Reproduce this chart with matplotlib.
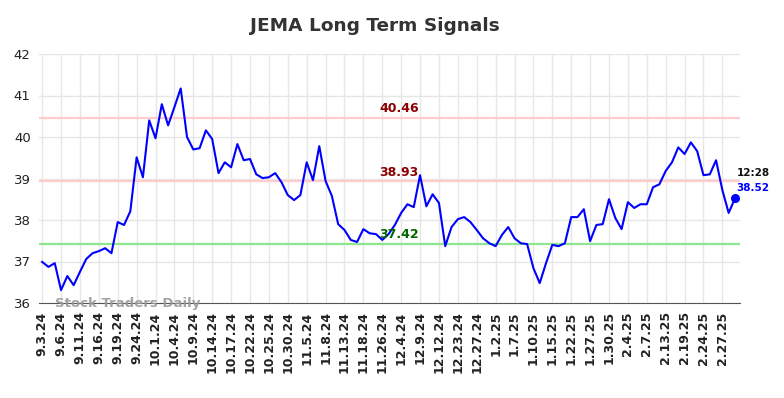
import matplotlib
matplotlib.use("Agg")
import matplotlib.pyplot as plt
import numpy as np

# closing values (one per trading session)
prices = [
    36.99, 36.87, 36.96, 36.31, 36.65, 36.43, 36.75, 37.06, 37.20, 37.25,
    37.32, 37.20, 37.95, 37.88, 38.21, 39.51, 39.03, 40.40, 39.97, 40.79,
    40.28, 40.72, 41.17, 40.00, 39.70, 39.73, 40.16, 39.95, 39.13, 39.39,
    39.27, 39.83, 39.44, 39.47, 39.10, 39.01, 39.03, 39.13, 38.91, 38.60,
    38.48, 38.60, 39.39, 38.96, 39.78, 38.94, 38.58, 37.90, 37.76, 37.52,
    37.47, 37.78, 37.68, 37.66, 37.52, 37.66, 37.88, 38.17, 38.38, 38.31,
    39.08, 38.33, 38.62, 38.41, 37.37, 37.83, 38.02, 38.07, 37.95, 37.76,
    37.56, 37.44, 37.37, 37.64, 37.83, 37.56, 37.44, 37.42, 36.84, 36.48,
    36.96, 37.40, 37.37, 37.44, 38.07, 38.07, 38.26, 37.49, 37.88, 37.90,
    38.50, 38.05, 37.78, 38.43, 38.29, 38.38, 38.38, 38.79, 38.86, 39.18,
    39.39, 39.75, 39.59, 39.87, 39.66, 39.08, 39.10, 39.44, 38.72, 38.17,
    38.52,
]

tick_labels = [
    "9.3.24", "9.6.24", "9.11.24", "9.16.24", "9.19.24", "9.24.24", "10.1.24",
    "10.4.24", "10.9.24", "10.14.24", "10.17.24", "10.22.24", "10.25.24",
    "10.30.24", "11.5.24", "11.8.24", "11.13.24", "11.18.24", "11.26.24",
    "12.4.24", "12.9.24", "12.12.24", "12.23.24", "12.27.24", "1.2.25",
    "1.7.25", "1.10.25", "1.15.25", "1.22.25", "1.27.25", "1.30.25",
    "2.4.25", "2.7.25", "2.13.25", "2.19.25", "2.24.25", "2.27.25",
]

upper_level = 40.46
mid_level = 38.93
lower_level = 37.42
last_time = "12:28"

x = np.arange(len(prices))
tick_pos = np.arange(len(tick_labels)) * 3

fig = plt.figure(figsize=(7.84, 3.98), dpi=100)
ax = fig.add_axes([39 / 784, 1 - 303 / 398, (740 - 39) / 784, (303 - 54) / 398])

# grid
ax.set_xticks(tick_pos)
ax.set_xticklabels(tick_labels, rotation=90, fontsize=9, fontweight="bold", color="#222222")
ax.set_yticks(range(36, 43))
ax.set_yticklabels([str(v) for v in range(36, 43)], fontsize=9.5, color="#222222")
ax.grid(True, color="#e6e6e6", linewidth=1)
ax.set_axisbelow(True)
ax.tick_params(length=0, pad=6)
for side in ["top", "right", "left"]:
    ax.spines[side].set_visible(False)
ax.spines["bottom"].set_color("#555555")

# signal levels
ax.axhline(upper_level, color="#ffcccc", linewidth=1.6)
ax.axhline(mid_level, color="#ffcccc", linewidth=1.6)
ax.axhline(lower_level, color="#90e690", linewidth=1.6)
lx = 56.7
ax.text(lx, upper_level + 0.07, f"{upper_level:.2f}", color="#8b0000", fontsize=9,
        fontweight="bold", ha="center", va="bottom")
ax.text(lx, mid_level + 0.07, f"{mid_level:.2f}", color="#8b0000", fontsize=9,
        fontweight="bold", ha="center", va="bottom")
ax.text(lx, lower_level + 0.07, f"{lower_level:.2f}", color="#006400", fontsize=9,
        fontweight="bold", ha="center", va="bottom")

# price line
ax.plot(x, prices, color="#0000ff", linewidth=1.5)
ax.plot(x[-1], prices[-1], "o", color="#0000ff", markersize=5.5)
ax.annotate(last_time, (x[-1], prices[-1]), xytext=(1, 18), textcoords="offset points",
            fontsize=7.5, fontweight="bold", color="#111111", ha="left", va="center",
            annotation_clip=False)
ax.annotate(f"{prices[-1]:.2f}", (x[-1], prices[-1]), xytext=(1, 7.5), textcoords="offset points",
            fontsize=7.5, fontweight="bold", color="#0000ff", ha="left", va="center",
            annotation_clip=False)

ax.text(2, 36.0, "Stock Traders Daily", fontsize=9.5, fontweight="bold", color="#999999",
        ha="left", va="center", alpha=0.9)

ax.set_xlim(-0.5, 110.8)
ax.set_ylim(36, 42)

fig.suptitle("JEMA Long Term Signals", x=374.5 / 784, y=1 - 26 / 398, va="center",
             fontsize=13.3, fontweight="bold", color="#333333")

fig.savefig("out.png", dpi=100)
